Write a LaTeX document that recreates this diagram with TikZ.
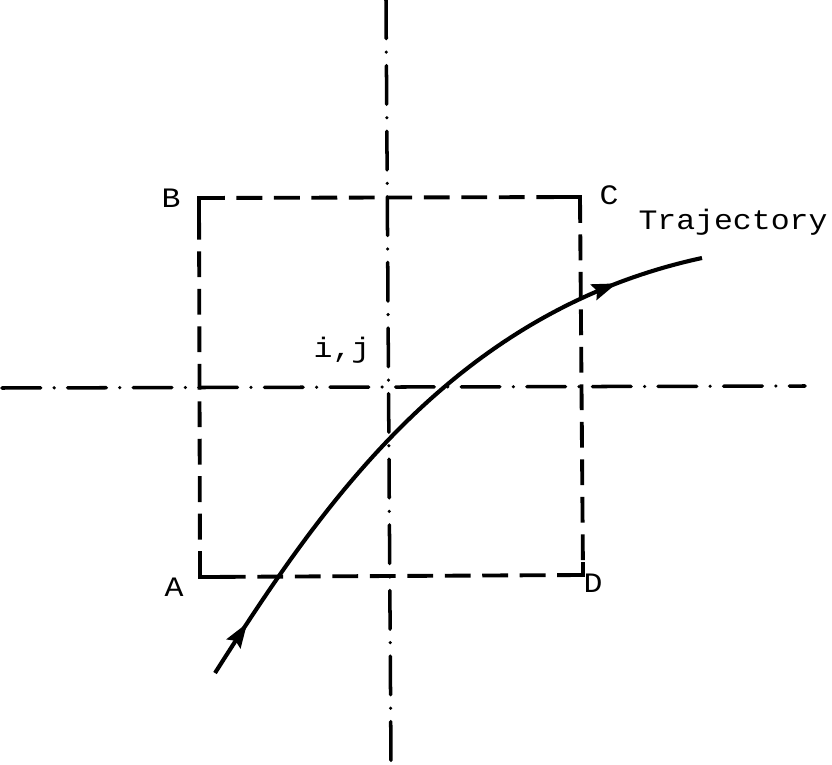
\documentclass[tikz,border=0pt]{standalone}
\usepackage{fontspec}
\setmonofont[FakeStretch=1.12]{Liberation Mono}
\usetikzlibrary{decorations.markings,arrows.meta}
\begin{document}
\begin{tikzpicture}[x=0.03cm,y=-0.03cm,
  axis/.style={line width=3pt,line cap=round,dash pattern=on 33pt off 11.5pt on 0pt off 11.5pt},
  cell/.style={line width=3.3pt,dash pattern=on 22pt off 10pt},
  corner/.style={line width=3.3pt},
  traj/.style={line width=3.5pt,
    postaction={decorate,decoration={markings,
      mark=at position 0.09 with {\arrow{Stealth[length=21pt,width=14pt,inset=3pt]}},
      mark=at position 0.865 with {\arrow{Stealth[length=21pt,width=14pt,inset=3pt]}}}}},
  lbl/.style={font=\ttfamily\fontsize{24}{26}\selectfont,inner sep=0pt}]
\useasboundingbox (0,0) rectangle (832,765);
% axes
\coordinate (vt) at (386,0);
\coordinate (vb) at (391,765);
\coordinate (hl) at (2,388);
\coordinate (hr) at (805,386);
\draw[axis] (vt) -- (vb);
\draw[axis] (hl) -- (hr);
% cell
\coordinate (A) at (200,577);
\coordinate (B) at (199,198);
\coordinate (C) at (580,197);
\coordinate (D) at (583,575);
\draw[cell] (A) -- (B);
\draw[cell] (B) -- (C);
\draw[cell] (C) -- (D);
\draw[cell] (D) -- (A);
\draw[corner] ([yshift=0.6cm]A) -- (A) -- ([xshift=0.6cm]A);
\draw[corner] ([yshift=-0.6cm]B) -- (B) -- ([xshift=0.6cm]B);
\draw[corner] ([xshift=-0.6cm]C) -- (C) -- ([yshift=-0.6cm]C);
\draw[corner] ([xshift=-0.6cm]D) -- (D) -- ([yshift=0.4cm]D);
% trajectory
\coordinate (t0) at (215,673);
\coordinate (t1) at (702,258);
\draw[traj] (t0) .. controls (320,508) and (452,312) .. (t1);
% labels
\node[lbl] (lA) at (174,587) {A};
\node[lbl] (lB) at (171,198) {B};
\node[lbl] (lC) at (609,195) {C};
\node[lbl] (lD) at (593,583) {D};
\node[lbl] (lij) at (342,350) {i,j};
\node[lbl] (lT) at (733,222) {Trajectory};
\end{tikzpicture}
\end{document}
